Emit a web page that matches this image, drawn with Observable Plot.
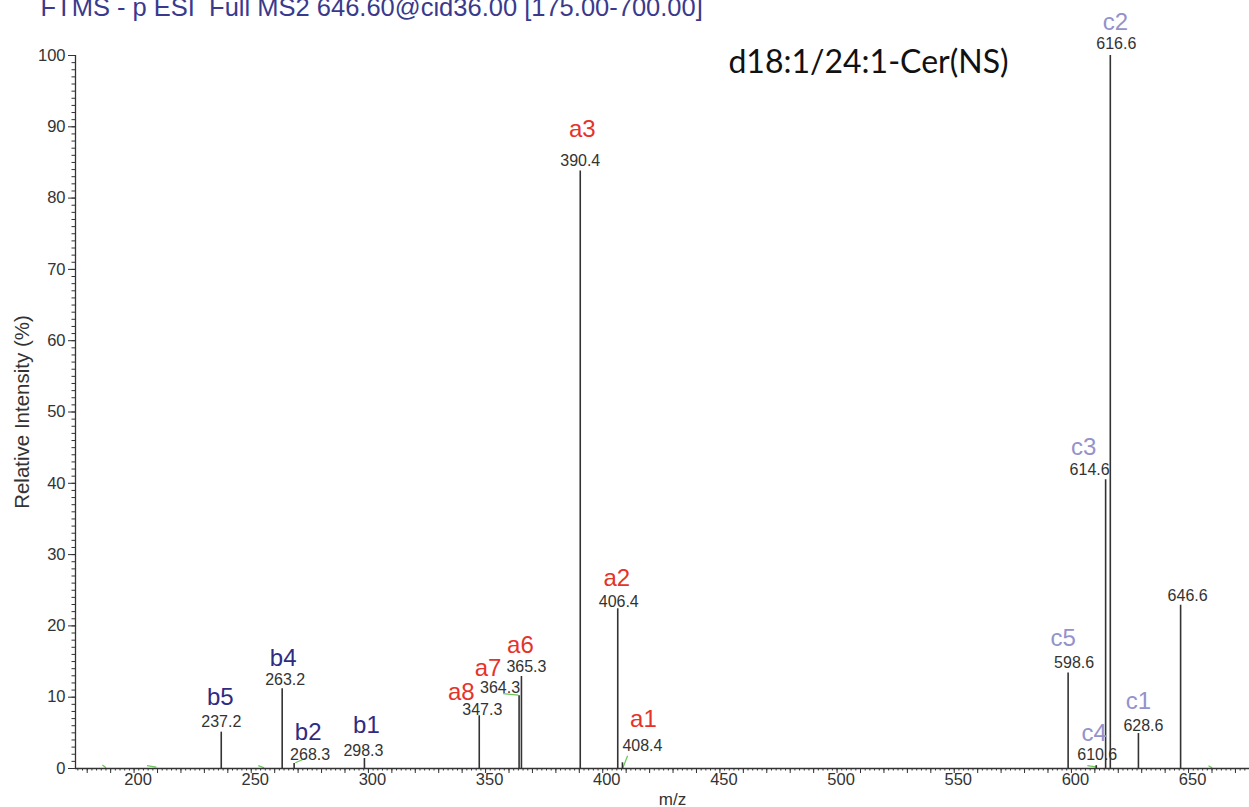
<!DOCTYPE html>
<html>
<head>
<meta charset="utf-8">
<script src="https://cdn.jsdelivr.net/npm/d3@7"></script>
<script src="https://cdn.jsdelivr.net/npm/@observablehq/plot@0.6"></script>
<style>
  html, body { margin: 0; padding: 0; background: #fff; }
  #chart svg { display: block; }
</style>
</head>
<body>
<div id="chart"></div>
<script>
// ---- data ----
const mz        = [237.2, 263.2, 268.3, 298.3, 347.3, 364.3, 365.3, 390.4, 406.4, 408.4, 598.6, 610.6, 614.6, 616.6, 628.6, 646.6];
const intensity = [5.1,   11.2,  0.7,   1.4,   7.4,   10.2,  12.9,  83.8,  22.4,  0.8,   13.4,  0.4,   40.5,  100,   4.9,   22.9];
const ions      = ["b5",  "b4",  "b2",  "b1",  "a8",  "a7",  "a6",  "a3",  "a2",  "a1",  "c5",  "c4",  "c3",  "c2",  "c1",  ""];
const mzLabels  = ["237.2","263.2","268.3","298.3","347.3","364.3","365.3","390.4","406.4","408.4","598.6","610.6","614.6","616.6","628.6","646.6"];
const xTickLabels = [200, 250, 300, 350, 400, 450, 500, 550, 600, 650];
const yTickLabels = [0, 10, 20, 30, 40, 50, 60, 70, 80, 90, 100];
const titleText = "FTMS - p ESI  Full MS2 646.60@cid36.00 [175.00-700.00]";
const compound  = "d18:1/24:1-Cer(NS)";

// small green annotation strokes (m/z, intensity) seen near the baseline
const noiseMz1 = [186.5, 205.5, 253.0, 268.8, 357.5, 408.6, 606.8, 658.5];
const noiseI1  = [0.5,   0.4,   0.4,   0.8,   10.5,  0.1,   0.4,   0.4];
const noiseMz2 = [188.0, 209.5, 255.5, 273.0, 364.0, 410.6, 611.0, 660.0];
const noiseI2  = [0.1,   0.2,   0.1,   1.4,   10.3,  1.8,   0.2,   0.1];

// ---- annotation layout (pixel nudges from each peak top) ----
const numberNudge = [[0,-10],[3,-9],[16,-9],[-1,-8],[3,-6],[-19,-8],[5,-10],[0,-10],[1,-7],[20,-17],[6,-10],[1,-11],[-16,-10],[6,-12],[5,-8],[7,-9]];
const ionNudge    = [[-1,-35],[1,-30],[14,-31],[2,-33],[-18,-23],[-31,-27],[-1,-31],[2,-42],[-1,-30],[21,-43],[-5,-35],[-2,-32],[-22,-32],[5,-33],[0,-32],[0,0]];
const ionColor = {a: "#e5332a", b: "#2f2b82", c: "#9592cb"};

const peaks = mz.map((m, i) => ({mz: m, intensity: intensity[i], ion: ions[i], label: mzLabels[i]}));
const noise = noiseMz1.map((m, i) => ({x1: m, y1: noiseI1[i], x2: noiseMz2[i], y2: noiseI2[i]}));

const font = "'Liberation Sans', Arial, Helvetica, sans-serif";
const axisColor = "#333";

const labelMarks = [];
peaks.forEach((p, i) => {
  labelMarks.push(Plot.text([p], {
    x: "mz", y: "intensity", text: "label",
    dx: numberNudge[i][0], dy: numberNudge[i][1],
    fill: "#333", fontSize: 16, textAnchor: "middle", lineAnchor: "middle"
  }));
  if (p.ion) {
    labelMarks.push(Plot.text([p], {
      x: "mz", y: "intensity", text: "ion",
      dx: ionNudge[i][0], dy: ionNudge[i][1],
      fill: ionColor[p.ion[0]], fontSize: 24, textAnchor: "middle", lineAnchor: "middle"
    }));
  }
});

const chart = Plot.plot({
  width: 1249,
  height: 807,
  marginLeft: 75,
  marginRight: 0,
  marginTop: 55,
  marginBottom: 39,
  style: {fontFamily: font, background: "#fff", overflow: "visible"},
  x: {domain: [175, 676], label: null},
  y: {domain: [0, 100], label: null},
  marks: [
    Plot.axisY({ticks: d3.range(0, 101, 1), tickSize: 3.5, tickFormat: () => "", stroke: axisColor}),
    Plot.axisY({ticks: yTickLabels, tickSize: 7, tickPadding: 3, fontSize: 16.5, fill: "#333", stroke: axisColor, label: null}),
    Plot.axisX({ticks: d3.range(176, 676, 2), tickSize: 2.5, tickFormat: () => "", stroke: axisColor}),
    Plot.axisX({ticks: d3.range(180, 676, 10), tickSize: 5, tickFormat: () => "", stroke: axisColor}),
    Plot.axisX({ticks: xTickLabels, tickSize: 0, tickPadding: 5, dx: 4, fontSize: 16.5, fill: "#333", label: null}),
    Plot.link(noise, {x1: "x1", y1: "y1", x2: "x2", y2: "y2", stroke: "#6cc45a", strokeWidth: 1.2}),
    Plot.ruleX([175], {y1: 0, y2: 100, stroke: axisColor, strokeWidth: 1.3}),
    Plot.ruleY([0], {stroke: axisColor, strokeWidth: 1.3}),
    Plot.ruleX(peaks, {x: "mz", y1: 0, y2: "intensity", stroke: "#333", strokeWidth: 1.6}),
    ...labelMarks,
    Plot.text([titleText], {frameAnchor: "top-left", dx: -35, dy: -40, text: d => d, textAnchor: "start", lineAnchor: "bottom", fontSize: 25.5, fill: "#3a3a8c"}),
    Plot.text([compound], {frameAnchor: "top-left", dx: 793, dy: 7, text: d => d, textAnchor: "middle", lineAnchor: "middle", fontSize: 32, fill: "#111", fontFamily: "Lato, 'Noto Sans', sans-serif"}),
    Plot.text(["Relative Intensity (%)"], {frameAnchor: "left", dx: -53, dy: 0, rotate: -90, text: d => d, textAnchor: "middle", lineAnchor: "middle", fontSize: 20.5, fill: "#333"}),
    Plot.text(["m/z"], {frameAnchor: "bottom", dx: 10, dy: 31, text: d => d, textAnchor: "middle", lineAnchor: "middle", fontSize: 17, fill: "#333"})
  ]
});

document.getElementById("chart").appendChild(chart);
</script>
</body>
</html>
